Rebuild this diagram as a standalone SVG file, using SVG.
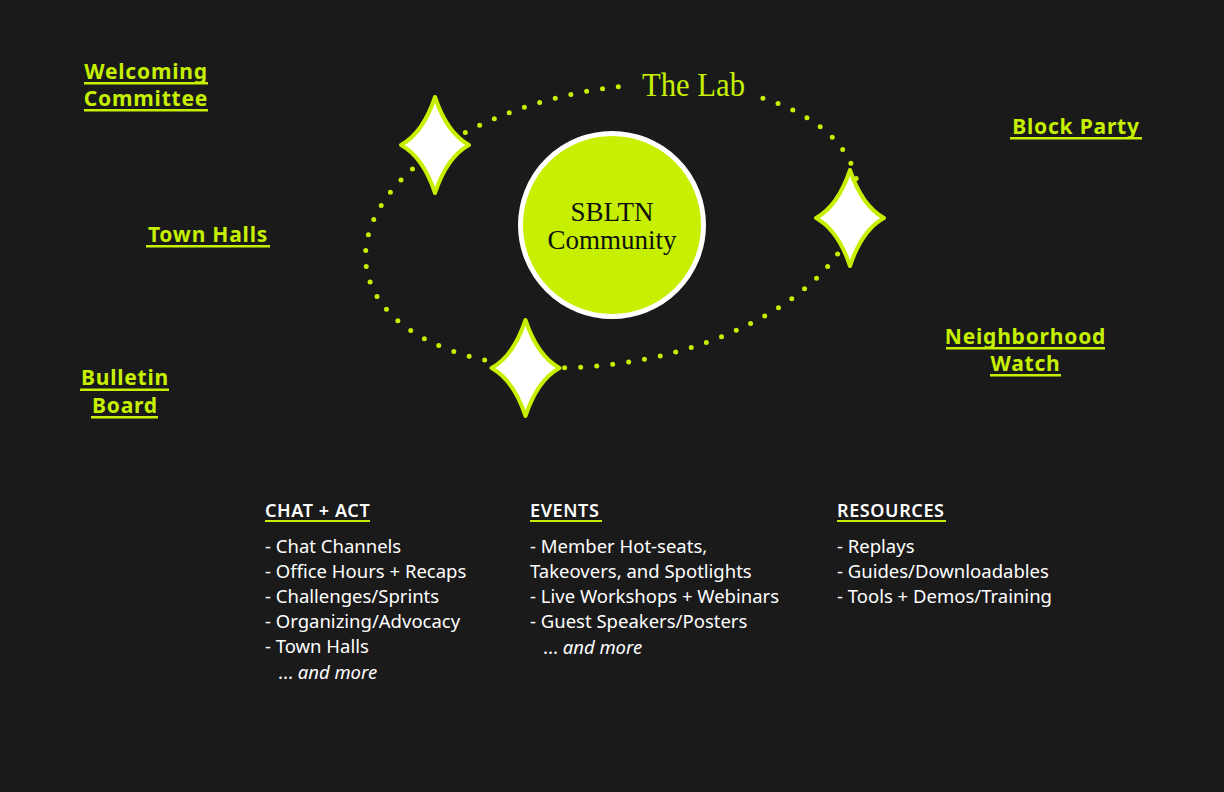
<svg xmlns="http://www.w3.org/2000/svg" width="1224" height="792" viewBox="0 0 1224 792">
<style>
.bg{fill:#1a1a1a}
.lbl{font-family:"Noto Sans","DejaVu Sans",sans-serif;font-weight:700;font-size:21px;letter-spacing:0.8px;fill:#c6f000;text-anchor:middle}
.ul{fill:#c6f000}
.hd{font-family:"Noto Sans","DejaVu Sans",sans-serif;font-weight:600;font-size:18px;letter-spacing:0.6px;fill:#ffffff}
.it{font-family:"Noto Sans","DejaVu Sans",sans-serif;font-weight:400;font-size:18.5px;fill:#ffffff}
.em{font-style:italic}
.star{fill:#ffffff;stroke:#c6f000;stroke-width:4;stroke-linejoin:round}
.ctr{font-family:"Liberation Serif","DejaVu Serif",serif;font-size:27px;fill:#111111;text-anchor:middle}
</style>
<defs>
<path id="sp" d="M0,-48 Q12,-12 34,0 Q12,12 0,48 Q-12,12 -34,0 Q-12,-12 0,-48 Z"/>
</defs>
<rect class="bg" x="0" y="0" width="1224" height="792"/>
<g id="connectors">
<path id="orbit" d="M762.9,98.2 A249 137 -10 1 1 618.3,86.8" fill="none" stroke="#c6f000" stroke-width="5" stroke-linecap="round" pathLength="68" stroke-dasharray="0 1"/>
</g>
<g id="the-lab">
<text x="693.5" y="96" font-family="'Liberation Serif','DejaVu Serif',serif" font-size="34" fill="#c6f000" text-anchor="middle" textLength="103" lengthAdjust="spacingAndGlyphs">The Lab</text>
</g>
<g id="center">
<circle cx="612" cy="225" r="91.5" fill="#c6f000" stroke="#ffffff" stroke-width="5"/>
<text class="ctr" x="612" y="221">SBLTN</text>
<text class="ctr" x="612" y="249">Community</text>
</g>
<g id="star1"><use href="#sp" class="star" transform="translate(435,145)"/></g>
<g id="star2"><use href="#sp" class="star" transform="translate(850,218)"/></g>
<g id="star3"><use href="#sp" class="star" transform="translate(525.5,368)"/></g>
<g id="welcoming-committee">
<text class="lbl" x="146" y="79">Welcoming</text>
<rect class="ul" x="84" y="82" width="124" height="2.5"/>
<text class="lbl" x="146" y="106">Committee</text>
<rect class="ul" x="84" y="109" width="124" height="2.5"/>
</g>
<g id="town-halls">
<text class="lbl" x="208" y="241.5">Town Halls</text>
<rect class="ul" x="146" y="245" width="124" height="2.5"/>
</g>
<g id="bulletin-board">
<text class="lbl" x="125" y="385">Bulletin</text>
<rect class="ul" x="80" y="388.5" width="89" height="2.5"/>
<text class="lbl" x="125" y="412.5">Board</text>
<rect class="ul" x="91" y="416" width="67" height="2.5"/>
</g>
<g id="block-party">
<text class="lbl" x="1076" y="134">Block Party</text>
<rect class="ul" x="1010" y="137" width="132" height="2.5"/>
</g>
<g id="neighborhood-watch">
<text class="lbl" x="1025.5" y="344">Neighborhood</text>
<rect class="ul" x="946" y="347" width="159" height="2.5"/>
<text class="lbl" x="1025.5" y="370.5">Watch</text>
<rect class="ul" x="990" y="374" width="71" height="2.5"/>
</g>
<g id="chat-act">
<text class="hd" x="265" y="517">CHAT + ACT</text>
<rect class="ul" x="265" y="520" width="105" height="2"/>
<text class="it" x="265" y="553">- Chat Channels</text>
<text class="it" x="265" y="578">- Office Hours + Recaps</text>
<text class="it" x="265" y="603">- Challenges/Sprints</text>
<text class="it" x="265" y="628">- Organizing/Advocacy</text>
<text class="it" x="265" y="653">- Town Halls</text>
<text class="it" x="278" y="679">... <tspan class="em">and more</tspan></text>
</g>
<g id="events">
<text class="hd" x="530" y="517">EVENTS</text>
<rect class="ul" x="530" y="520" width="72" height="2"/>
<text class="it" x="530" y="553">- Member Hot-seats,</text>
<text class="it" x="530" y="578">Takeovers, and Spotlights</text>
<text class="it" x="530" y="603">- Live Workshops + Webinars</text>
<text class="it" x="530" y="628">- Guest Speakers/Posters</text>
<text class="it" x="543" y="654">... <tspan class="em">and more</tspan></text>
</g>
<g id="resources">
<text class="hd" x="837" y="517">RESOURCES</text>
<rect class="ul" x="837" y="520" width="109" height="2"/>
<text class="it" x="837" y="553">- Replays</text>
<text class="it" x="837" y="578">- Guides/Downloadables</text>
<text class="it" x="837" y="603">- Tools + Demos/Training</text>
</g>
</svg>
